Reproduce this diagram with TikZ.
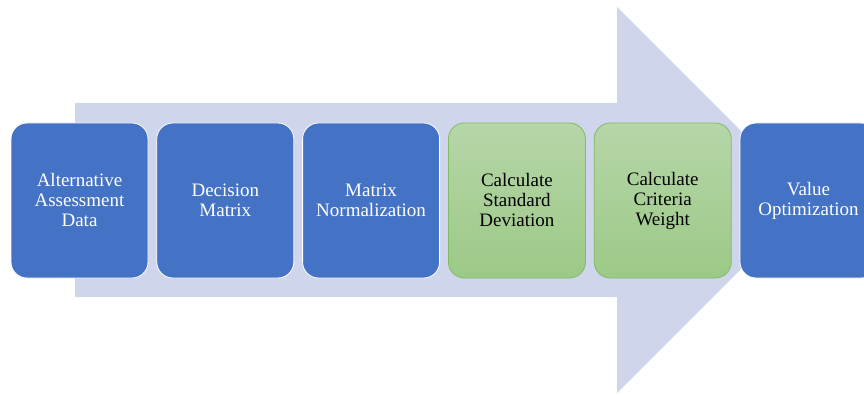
\documentclass[tikz,border=0pt]{standalone}
\usepackage{fontspec}
\setmainfont{Liberation Serif}
\usetikzlibrary{positioning}

\definecolor{stepblue}{HTML}{4472C4}
\definecolor{arrowback}{HTML}{CFD5EA}
\definecolor{greentop}{HTML}{B6D6A8}
\definecolor{greenbot}{HTML}{9CC987}
\definecolor{greenline}{HTML}{82BA66}

\begin{document}
\begin{tikzpicture}[
    x=1pt, y=1pt,
    stage/.style={
        rectangle,
        rounded corners=16pt,
        minimum width=137pt,
        minimum height=155pt,
        align=center,
        inner sep=0pt,
        font=\fontsize{19}{20}\selectfont,
    },
    bluestage/.style={
        stage,
        fill=stepblue,
        draw=white,
        line width=0.8pt,
        text=white,
    },
    greenstage/.style={
        stage,
        top color=greentop,
        bottom color=greenbot,
        draw=greenline,
        line width=0.8pt,
        text=black,
    },
    node distance=8pt,
]
    \useasboundingbox (0,0) rectangle (864,394);
    \clip (0,0) rectangle (864,394);

    % Background arrow
    \fill[arrowback] (75,97) -- (617,97) -- (617,1) -- (810,194)
        -- (617,387) -- (617,291) -- (75,291) -- cycle;

    % Stages
    \node[bluestage] (data) at (79.5,193.5) {Alternative\\Assessment\\Data};
    \node[bluestage, right=of data] (matrix) {Decision\\Matrix};
    \node[bluestage, right=of matrix] (norm) {Matrix\\Normalization};
    \node[greenstage, right=of norm] (stdev) {Calculate\\Standard\\Deviation};
    \node[greenstage, right=of stdev] (weight) {Calculate\\Criteria\\Weight};
    \node[bluestage, right=of weight] (optim) {Value\\Optimization};
\end{tikzpicture}
\end{document}
